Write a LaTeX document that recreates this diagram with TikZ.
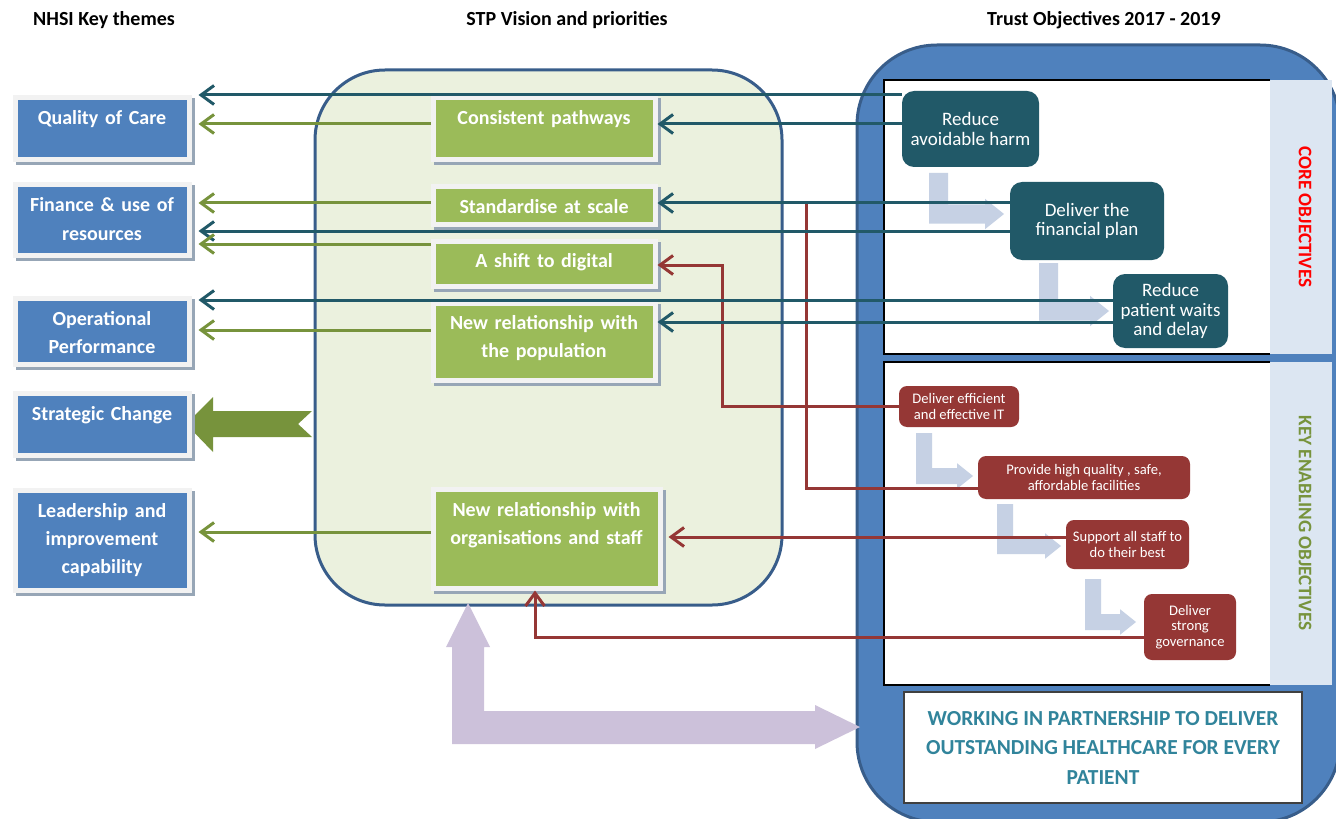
\documentclass[tikz,border=0pt]{standalone}
\usepackage{fontspec}
\setmainfont{Carlito}
\usetikzlibrary{arrows.meta,shadows}

\definecolor{themeblue}{HTML}{4F81BD}
\definecolor{edgeblue}{HTML}{385D8A}
\definecolor{framegray}{HTML}{F2F2F2}
\definecolor{shadowgray}{HTML}{97A6B6}
\definecolor{stpgreen}{HTML}{9BBB59}
\definecolor{stpfill}{HTML}{EBF1DE}
\definecolor{coreteal}{HTML}{215968}
\definecolor{enablered}{HTML}{953735}
\definecolor{linkgreen}{HTML}{77933C}
\definecolor{stepblue}{HTML}{C6D1E4}
\definecolor{lilac}{HTML}{CCC1DA}
\definecolor{stripblue}{HTML}{DCE6F2}
\definecolor{mottoteal}{HTML}{31849B}

\tikzset{
  framed/.style={draw=framegray, line width=2.5pt, inner sep=0pt, anchor=north west,
    align=center, text=white, font=\bfseries\fontsize{10}{14}\selectfont,
    drop shadow={shadow xshift=1.5pt, shadow yshift=-1.5pt, fill=shadowgray,
      draw=shadowgray, line width=2.5pt, opacity=1}},
  theme/.style={framed, fill=themeblue, minimum width=87pt, text width=84pt},
  stp/.style={framed, fill=stpgreen, minimum width=111pt, text width=108pt},
  core/.style={fill=coreteal, rounded corners=6pt, text=white, align=center,
    font=\fontsize{9.5}{9.8}\selectfont, inner sep=0pt},
  enabler/.style={fill=enablered, rounded corners=4pt, text=white, align=center,
    font=\fontsize{7.3}{7.8}\selectfont, inner sep=0pt},
  heading/.style={font=\bfseries\fontsize{10}{12}\selectfont},
  sidelabel/.style={font=\bfseries\fontsize{9.6}{11}\selectfont, rotate=-90},
  link/.style={line width=1.5pt, ->},
  teallink/.style={link, draw=coreteal},
  greenlink/.style={link, draw=linkgreen},
  redlink/.style={link, draw=enablered},
}

\begin{document}
\begin{tikzpicture}[x=0.5pt, y=-0.5pt, >={Straight Barb[length=6.5pt,width=9.5pt]}]
\useasboundingbox (0,0) rectangle (1336,818);

% column headings
\node[heading] (nhsi) at (104,20) {NHSI Key themes};
\node[heading] (stp) at (567,20) {STP Vision and priorities};
\node[heading] (trust) at (1104,20) {Trust Objectives 2017 - 2019};

% containers
\draw[line width=1.5pt, draw=edgeblue, fill=stpfill, rounded corners=35pt] (315,70) rectangle (782,605);
\draw[line width=1.5pt, draw=edgeblue, fill=themeblue, rounded corners=40pt] (857,45) rectangle (1340,822);

% objective panels
\fill[white] (884,80) rectangle (1270,354);
\fill[stripblue] (1270,80) rectangle (1332,354);
\draw[line width=0.6pt] (1270,80) -| (884,354) -- (1270,354);
\fill[white] (884,362) rectangle (1270,685);
\fill[stripblue] (1270,362) rectangle (1332,685);
\draw[line width=0.6pt] (1270,362) -| (884,685) -- (1270,685);

\node[sidelabel, text=red] (corelabel) at (1305,217) {CORE OBJECTIVES};
\node[sidelabel, text=linkgreen] (enablelabel) at (1305,523) {KEY ENABLING OBJECTIVES};

% step arrows
\foreach \xa/\ya/\yc/\xt/\w in {929/173/214/1004/19, 1039/263/311/1109/19,
    916/433/476/973/16, 997/504/546/1061/16, 1085/579/622/1136/16}
  \fill[stepblue] (\xa,\ya) -- ++(\w,0) |- (\xt-\w,\yc-\w/2) -- ++(0,-0.3*\w)
    -- (\xt,\yc) -- (\xt-\w,\yc+0.8*\w) -- ++(0,-0.3*\w) -- (\xa,\yc+\w/2) -- cycle;

% partnership arrow
\fill[lilac] (468,603) -- (490,647) -- (484,647) -- (484,711) -- (815,711) -- (815,705)
  -- (860,727) -- (815,749) -- (815,744) -- (452,744) -- (452,647) -- (446,647) -- cycle;

% strategic change arrow
\fill[linkgreen] (186,424) -- (213,397) -- (213,411) -- (312,411) -- (298,424)
  -- (312,437) -- (213,437) -- (213,452) -- cycle;

% NHSI themes
\node[theme, text height=13.5pt, text depth=17.5pt] (quality) at (12.5,95.5) {Quality of Care};
\node[theme, text height=13.5pt, text depth=21.5pt] (finance) at (12.5,182.5) {Finance \& use of\\resources};
\node[theme, text height=13.5pt, text depth=19.5pt] (operational) at (12.5,295.5) {Operational\\Performance};
\node[theme, text height=13.5pt, text depth=17.5pt] (strategic) at (12.5,390.5) {Strategic Change};
\node[theme, text height=13.5pt, text depth=36.5pt] (leadership) at (12.5,487.5) {Leadership and\\improvement\\capability};

% STP priorities
\node[stp, text height=13.5pt, text depth=17.5pt] (consistent) at (430.5,95.5) {Consistent pathways};
\node[stp, text height=13.25pt, text depth=5.25pt] (standardise) at (430.5,184.5) {Standardise at scale};
\node[stp, text height=13.25pt, text depth=9.25pt] (digital) at (430.5,238.5) {A shift to digital};
\node[stp, text height=13.25pt, text depth=25.25pt] (population) at (430.5,300.5) {New relationship with\\the population};
\node[stp, minimum width=113.5pt, text height=13.75pt, text depth=35.75pt] (organisations) at (430.5,486.5) {New relationship with\\organisations and staff};

% trust objectives
\node[core, minimum width=68.5pt, minimum height=38pt] (harm) at (970.5,129) {Reduce\\avoidable harm};
\node[core, minimum width=77pt, minimum height=39pt] (finplan) at (1087,221) {Deliver the\\financial plan};
\node[core, minimum width=57.5pt, minimum height=37pt] (waits) at (1170.5,311) {Reduce\\patient waits\\and delay};

\node[enabler, minimum width=60pt, minimum height=20.5pt] (it) at (959,406.5) {Deliver efficient\\and effective IT};
\node[enabler, minimum width=106pt, minimum height=21.5pt] (facilities) at (1084,477.5) {Provide high quality , safe,\\affordable facilities};
\node[enabler, minimum width=61.5pt, minimum height=24.5pt] (staff) at (1127.5,544.5) {Support all staff to\\do their best};
\node[enabler, minimum width=46pt, minimum height=33pt] (governance) at (1190,627) {Deliver\\strong\\governance};

\node[draw=black!75, line width=0.8pt, fill=white, minimum width=199pt, minimum height=55.5pt,
  align=center, text=mottoteal, font=\bfseries\fontsize{10.7}{14.75}\selectfont] (motto) at (1103,747.5)
  {WORKING IN PARTNERSHIP TO DELIVER\\OUTSTANDING HEALTHCARE FOR EVERY\\PATIENT};

% enabling links
\coordinate (merge) at (806,204);
\draw[redlink] (it.west) -| (722,265) -- (digital.east |- 0,265);
\draw[redlink, -] (facilities.west |- 0,488) -| (merge);
\draw[redlink, shorten >=3pt] (staff.west |- 0,537) -- (organisations.east |- 0,537);
\draw[redlink] (governance.west |- 0,637) -| (organisations.south -| 535,0);

% core links
\draw[teallink, shorten >=3.5pt] (harm.west |- 0,95) -- (quality.east |- 0,95);
\draw[teallink] (harm.west |- 0,124) -- (consistent.east |- 0,124);
\draw[teallink] (finplan.west |- 0,203) -- (standardise.east |- 0,203);
\draw[teallink, shorten >=3.5pt] (finplan.west |- 0,231) -- (finance.east |- 0,231);
\draw[teallink, shorten >=3.5pt] (waits.west |- 0,300) -- (operational.east |- 0,300);
\draw[teallink] (waits.west |- 0,322) -- (population.east |- 0,322);

% priority links
\draw[greenlink, shorten >=3.5pt] (consistent.west |- 0,124) -- (quality.east |- 0,124);
\draw[greenlink, shorten >=3.5pt] (standardise.west |- 0,203) -- (finance.east |- 0,203);
\draw[greenlink, shorten >=3.5pt] (digital.west |- 0,244) -- (finance.east |- 0,244);
\draw[greenlink, shorten >=3.5pt] (population.west |- 0,330) -- (operational.east |- 0,330);
\draw[greenlink, shorten >=3.5pt] (organisations.west |- 0,532) -- (leadership.east |- 0,532);
\end{tikzpicture}
\end{document}
